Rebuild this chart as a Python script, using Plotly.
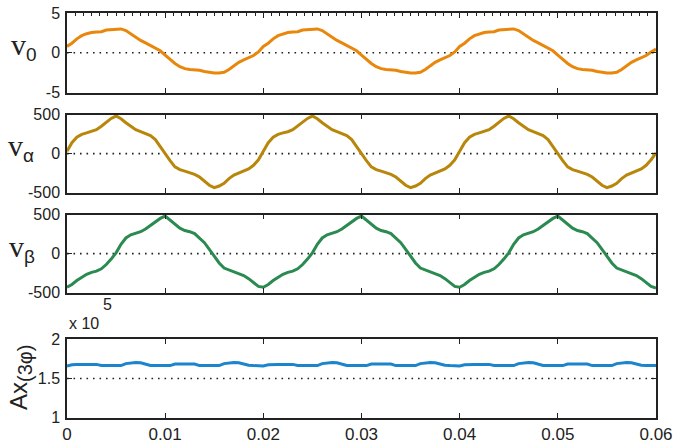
import numpy as np
import plotly.graph_objects as go

# Sampling of the waveforms: 0.5 ms steps over three 20 ms cycles
T_STEP = 0.0005
N_CYCLES = 3

# One 20 ms cycle of each signal (t = 0 ... 19.5 ms)
v0_cycle = [0.8, 1.2, 1.75, 2.15, 2.4, 2.55, 2.6, 2.65, 2.85, 2.9,
            3.0, 3.0, 2.8, 2.35, 1.95, 1.55, 1.25, 0.95, 0.65, 0.25,
            -0.3, -0.85, -1.35, -1.75, -2.0, -2.1, -2.15, -2.2, -2.35, -2.45,
            -2.55, -2.55, -2.45, -2.1, -1.6, -1.2, -0.9, -0.6, -0.35, 0.1]
valpha_cycle = [30, 140, 210, 245, 265, 280, 305, 350, 405, 450,
                480, 445, 395, 345, 305, 280, 260, 230, 180, 90,
                -10, -90, -170, -205, -225, -245, -265, -300, -350, -405,
                -435, -415, -380, -320, -275, -250, -230, -195, -150, -80]
vbeta_cycle = [-430, -395, -345, -300, -265, -240, -225, -195, -140, -70,
               10, 120, 200, 240, 260, 280, 315, 360, 405, 450,
               480, 430, 375, 325, 295, 280, 255, 200, 140, 55,
               -35, -120, -185, -210, -230, -250, -280, -320, -370, -420]
ax_cycle = [1.66, 1.675, 1.68, 1.68, 1.68, 1.68, 1.68, 1.665, 1.665, 1.665,
            1.665, 1.665, 1.69, 1.70, 1.705, 1.70, 1.685, 1.665, 1.665, 1.665,
            1.665, 1.665, 1.685, 1.685, 1.69, 1.685, 1.685, 1.665, 1.665, 1.665,
            1.665, 1.665, 1.69, 1.70, 1.705, 1.70, 1.685, 1.67, 1.665, 1.665]  # x 1e5

# Final sample at t = 60 ms
v0_end, valpha_end, vbeta_end, ax_end = 0.45, 10, -440, 1.665

x_ticks = [0, 0.01, 0.02, 0.03, 0.04, 0.05, 0.06]
x_tick_text = ["0", "0.01", "0.02", "0.03", "0.04", "0.05", "0.06"]

t = np.arange(len(v0_cycle) * N_CYCLES + 1) * T_STEP
v0 = v0_cycle * N_CYCLES + [v0_end]
valpha = valpha_cycle * N_CYCLES + [valpha_end]
vbeta = vbeta_cycle * N_CYCLES + [vbeta_end]
ax3 = [v * 1e5 for v in ax_cycle * N_CYCLES + [ax_end]]

W, H = 674, 445
L, R = 67, 18
# panel pixel extents (top, bottom)
panels = [(13, 92.5), (114.5, 192.7), (214.5, 292.7), (339.3, 417.7)]
domains = [[1 - b / H, 1 - tp / H] for tp, b in panels]

colors = ["#E8870C", "#B8860B", "#2A8A50", "#1A84CC"]
series = [v0, valpha, vbeta, ax3]
y_ranges = [[-5, 5], [-500, 500], [-500, 500], [1e5, 2e5]]
y_tickvals = [[-5, 0, 5], [-500, 0, 500], [-500, 0, 500], [1e5, 1.5e5, 2e5]]
y_ticktext = [["-5", "0", "5"], ["-500", "0", "500"], ["-500", "0", "500"], ["1", "1.5", "2"]]
ref_lines = [0, 0, 0, 1.5e5]

AXIS_COL = "#222222"
SANS = "Liberation Sans, Arial, sans-serif"
SERIF = "Liberation Serif, Times New Roman, serif"
Y_TICK_FONT = dict(family=SANS, size=16, color="#222222")
X_TICK_FONT = dict(family=SANS, size=17, color="#222222")

fig = go.Figure()
layout = dict(
    width=W, height=H,
    margin=dict(l=L, r=R, t=0, b=0, autoexpand=False),
    paper_bgcolor="white", plot_bgcolor="white",
    showlegend=False,
)

for i in range(4):
    sx = "" if i == 0 else str(i + 1)
    xa, ya = "x" + sx, "y" + sx
    fig.add_trace(go.Scatter(x=t, y=series[i], mode="lines", xaxis=xa, yaxis=ya,
                             line=dict(color=colors[i], width=3), hoverinfo="skip"))
    layout["xaxis" + sx] = dict(
        domain=[0, 1], range=[0, 0.06], anchor=ya,
        tickmode="array", tickvals=x_ticks, ticktext=x_tick_text,
        showticklabels=(i == 3), ticks="inside", ticklen=5, tickwidth=1.2, tickcolor=AXIS_COL,
        showline=True, linecolor=AXIS_COL, linewidth=1.5, mirror="ticks",
        showgrid=False, zeroline=False, tickfont=X_TICK_FONT,
    )
    layout["yaxis" + sx] = dict(
        domain=domains[i], range=y_ranges[i], anchor=xa,
        tickmode="array", tickvals=y_tickvals[i], ticktext=y_ticktext[i],
        ticks="inside", ticklen=5, tickwidth=1.2, tickcolor=AXIS_COL,
        showline=True, linecolor=AXIS_COL, linewidth=1.5, mirror="ticks",
        showgrid=False, zeroline=False, tickfont=Y_TICK_FONT, ticklabelstandoff=2,
    )
    fig.add_shape(type="line", xref=xa, yref=ya, x0=0, x1=0.06,
                  y0=ref_lines[i], y1=ref_lines[i],
                  line=dict(color="#222222", width=1.6, dash="1.6px,4.9px"), layer="below")

# fine tick marks along the top edge of the first panel
layout["xaxis5"] = dict(
    overlaying="x", side="top", anchor="y", range=[0, 0.06],
    tickmode="array", tickvals=[k * 0.01 / 12 for k in range(73)],
    showticklabels=False, ticks="inside", ticklen=3, tickwidth=1, tickcolor=AXIS_COL,
    showline=False, showgrid=False, zeroline=False,
)
fig.add_trace(go.Scatter(x=[None], y=[None], xaxis="x5", yaxis="y", showlegend=False))

fig.update_layout(**layout)


def px_x(x):
    return (x - L) / (W - L - R)


def px_y(y):
    return 1 - y / H


SUB = '<span style="font-family:Liberation Sans, Arial, sans-serif;font-size:19px">{}</span>'
labels = [
    ("v<sub>" + SUB.format("0") + "</sub>", 9, 46),
    ("v<sub>" + SUB.format("α") + "</sub>", 6, 147),
    ("v<sub>" + SUB.format("β") + "</sub>", 7, 249),
]
for txt, x, y in labels:
    fig.add_annotation(text=txt, xref="paper", yref="paper",
                       x=px_x(x), y=px_y(y),
                       xanchor="left", yanchor="middle", showarrow=False,
                       font=dict(family=SERIF, size=30, color="#222222"))

fig.add_annotation(text='Ax<sub><span style="font-size:20px">(3φ)</span></sub>',
                   xref="paper", yref="paper",
                   x=px_x(20), y=px_y(378), textangle=-90,
                   xanchor="center", yanchor="middle", showarrow=False,
                   font=dict(family=SANS, size=24, color="#222222"))
fig.add_annotation(text="x 10", xref="paper", yref="paper",
                   x=px_x(67), y=px_y(323),
                   xanchor="left", yanchor="middle", showarrow=False,
                   font=dict(family=SANS, size=16, color="#222222"))
fig.add_annotation(text="5", xref="paper", yref="paper",
                   x=px_x(101), y=px_y(304),
                   xanchor="left", yanchor="middle", showarrow=False,
                   font=dict(family=SANS, size=16, color="#222222"))

fig.write_html("out.html")
